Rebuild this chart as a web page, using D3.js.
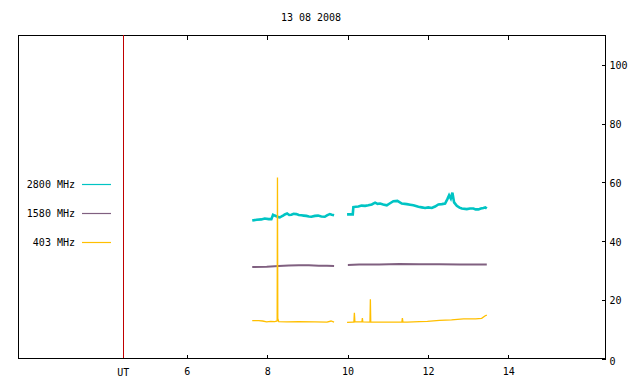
<!DOCTYPE html>
<html><head><meta charset="utf-8">
<script src="https://cdn.jsdelivr.net/npm/d3@7"></script>
<style>body{margin:0;background:#fff}svg{display:block}text{font-family:"DejaVu Sans Mono",monospace;font-size:10px;fill:#000}</style>
</head><body>
<svg id="c" width="640" height="384"></svg>
<script>
const title = "13 08 2008";
const xTicks = [6, 8, 10, 12, 14];
const yTicks = [0, 20, 40, 60, 80, 100];
const utMarker = 4.43;
const legendLabels = ["2800 MHz", "1580 MHz", "403 MHz"];
const colors = ["#00c4c4", "#806080", "#ffbf00"];

// 2800 MHz (two segments)
const t2800a = [7.64,7.75,7.867,7.95,8.05,8.116,8.158,8.2,8.24,8.28,8.325,8.37,8.407,8.45,8.507,8.56,8.614,8.67,8.738,8.8,8.863,8.92,8.987,9.05,9.112,9.2,9.279,9.36,9.445,9.5,9.57,9.62,9.677];
const v2800a = [46.8,47.1,47.2,47.5,47.3,47.3,48.8,48.5,48.3,48.0,47.9,48.2,48.5,48.9,49.2,48.7,48.8,49.1,49.0,48.7,48.6,48.5,48.4,48.2,48.1,48.4,48.5,48.2,48.1,48.6,49.0,48.8,48.6];
const t2800b = [10.0,10.142,10.157,10.22,10.282,10.36,10.449,10.53,10.615,10.698,10.76,10.822,10.9,10.989,11.07,11.153,11.253,11.362,11.487,11.57,11.651,11.776,11.86,11.942,12.02,12.109,12.19,12.273,12.36,12.44,12.497,12.54,12.582,12.622,12.664,12.731,12.8,12.856,12.98,13.06,13.145,13.2,13.269,13.33,13.394,13.44,13.478];
const v2800b = [48.9,48.9,51.4,51.5,51.6,51.9,51.8,52.0,52.3,52.9,52.5,52.6,52.3,52.0,52.7,53.4,53.5,52.6,52.4,52.2,52.0,51.5,51.3,51.1,51.3,51.1,51.6,52.3,52.4,52.6,54.1,55.4,54.3,56.3,53.0,51.8,51.2,50.9,50.7,50.9,50.9,50.6,50.6,50.9,51.1,51.3,50.9];

// 1580 MHz
const t1580a = [7.64,8.0,8.3,8.55,8.8,9.05,9.3,9.5,9.677];
const v1580a = [31.0,31.1,31.3,31.5,31.6,31.6,31.4,31.4,31.3];
const t1580b = [10.02,10.3,10.8,11.3,11.8,12.3,12.8,13.2,13.478];
const v1580b = [31.7,31.8,31.8,32.0,31.9,31.9,31.8,31.8,31.8];

// 403 MHz
const t403a = [7.64,7.8,7.9,8.0,8.1,8.2,8.26,8.268,8.276,8.3,8.5,8.8,9.2,9.5,9.6,9.677];
const v403a = [12.7,12.7,12.6,12.3,12.5,12.4,12.6,61.5,13.5,12.4,12.3,12.4,12.3,12.2,12.6,12.2];
const t403b = [10.0,10.15,10.17,10.182,10.195,10.3,10.37,10.381,10.392,10.57,10.58,10.59,10.8,11.0,11.365,11.377,11.39,11.5,11.8,12.0,12.3,12.6,12.9,13.2,13.35,13.43,13.478];
const v403b = [12.1,12.2,12.2,15.4,12.4,12.3,12.3,13.6,12.3,12.2,20.0,12.2,12.2,12.2,12.3,13.6,12.3,12.2,12.4,12.5,12.8,13.0,13.3,13.3,13.5,14.3,14.6];

const L = 18, R = 605, T = 35, B = 358;
const svg = d3.select("#c");
const x = d3.scaleLinear().domain([1.81, 16.42]).range([L, R]);
const y = d3.scaleLinear().domain([0, 110]).range([B, T]);

// frame
svg.append("rect").attr("x", L + 0.5).attr("y", T + 0.5).attr("width", R - L).attr("height", B - T)
  .attr("fill", "none").attr("stroke", "#000").attr("stroke-width", 1).attr("shape-rendering", "crispEdges");

// title
svg.append("text").attr("x", 311).attr("y", 21).attr("text-anchor", "middle").text(title);

// axes
const bx = d3.axisBottom(x).tickValues(xTicks).tickSize(-4).tickPadding(10).tickFormat(d3.format("d"));
const gB = svg.append("g").attr("transform", `translate(0.5,${B + 0.5})`).call(bx);
const gT = svg.append("g").attr("transform", `translate(0.5,${T + 0.5})`).call(d3.axisTop(x).tickValues(xTicks).tickSize(-4).tickFormat(""));
const gR = svg.append("g").attr("transform", `translate(${R + 0.5},0.5)`).call(d3.axisRight(y).tickValues(yTicks).tickSize(-4).tickPadding(7));
[gB, gT, gR].forEach(g => {
  g.select(".domain").remove();
  g.selectAll("line").attr("stroke", "#000").attr("shape-rendering", "crispEdges");
  g.selectAll("text").attr("font-family", "DejaVu Sans Mono").attr("font-size", 10).attr("fill", "#000");
});
gB.selectAll("text").attr("dy", "0.71em").attr("y", 9);
gR.selectAll("text").attr("x", 4).attr("dy", "0.4em");
gR.selectAll(".tick").filter(d => d === 0).select("text").attr("dy", "0.6em");

// UT marker
svg.append("line").attr("x1", Math.round(x(utMarker)) + 0.5).attr("x2", Math.round(x(utMarker)) + 0.5)
  .attr("y1", T).attr("y2", B).attr("stroke", "#c00000").attr("stroke-width", 1).attr("shape-rendering", "crispEdges");
svg.append("text").attr("x", x(utMarker)).attr("y", B + 18).attr("text-anchor", "middle").text("UT");

// series
const line = d3.line().x(d => x(d[0])).y(d => y(d[1]));
function draw(ts, vs, color, w) {
  svg.append("path").datum(ts.map((t, i) => [t, vs[i]])).attr("d", line)
    .attr("fill", "none").attr("stroke", color).attr("stroke-width", w).attr("stroke-linejoin", "miter");
}
draw(t2800a, v2800a, colors[0], 2.6);
draw(t2800b, v2800b, colors[0], 2.6);
draw(t1580a, v1580a, colors[1], 2);
draw(t1580b, v1580b, colors[1], 2);
draw(t403a, v403a, colors[2], 1.3);
draw(t403b, v403b, colors[2], 1.3);

// legend
const legY = [184.5, 213.5, 242.5];
legendLabels.forEach((lab, i) => {
  svg.append("text").attr("x", 75).attr("y", legY[i]).attr("dy", "0.35em").attr("text-anchor", "end").text(lab);
  svg.append("line").attr("x1", 82).attr("x2", 111).attr("y1", legY[i]).attr("y2", legY[i])
    .attr("stroke", colors[i]).attr("stroke-width", 1.2);
});
</script>
</body></html>
